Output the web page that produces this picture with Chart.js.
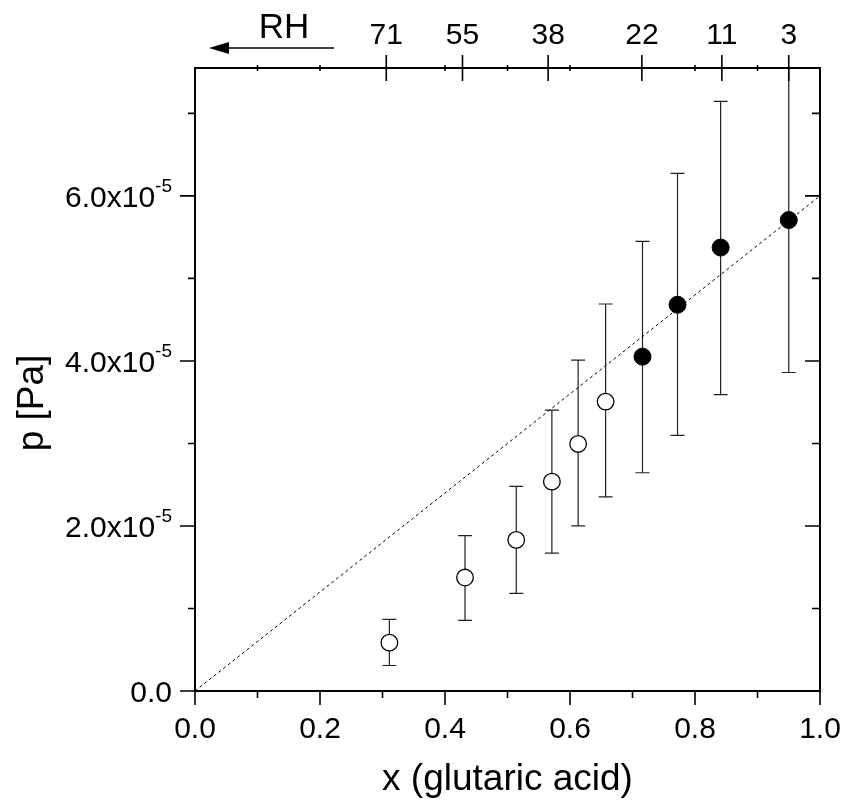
<!DOCTYPE html>
<html>
<head>
<meta charset="utf-8">
<script src="https://cdn.jsdelivr.net/npm/chart.js@4.4.0/dist/chart.umd.min.js"></script>
<style>
body { margin: 0; background: #fff; }
</style>
</head>
<body>
<canvas id="myChart" width="841" height="804"></canvas>
<script>
// p values are in units of 1e-5 Pa
var xOpen = [0.311, 0.432, 0.514, 0.571, 0.613, 0.657];
var pOpen = [0.586, 1.375, 1.831, 2.537, 2.994, 3.507];
var loOpen = [0.309, 0.857, 1.183, 1.672, 2.000, 2.353];
var hiOpen = [0.869, 1.883, 2.481, 3.403, 4.010, 4.690];

var xFilled = [0.716, 0.772, 0.841, 0.950];
var pFilled = [4.052, 4.681, 5.374, 5.707];
var loFilled = [2.645, 3.098, 3.591, 3.860];
var hiFilled = [5.450, 6.273, 7.146, 7.800];

var fitX = [0.0, 1.0];
var fitP = [0.0, 6.0];

var rhLabels = ['71', '55', '38', '22', '11', '3'];
var rhX = [0.306, 0.428, 0.565, 0.715, 0.843, 0.950];

var xTicks = [0.0, 0.2, 0.4, 0.6, 0.8, 1.0];
var yTicks = [0, 2, 4, 6];

var fam = '"Liberation Sans", Arial, sans-serif';

function pts(xs, ys) {
    return xs.map(function (x, i) { return { x: x, y: ys[i] * 1e-5 }; });
}

var framePlugin = {
    id: 'frame',
    beforeDatasetsDraw: function (chart) {
        var c = chart.ctx, a = chart.chartArea;
        var sx = chart.scales.x, sy = chart.scales.y;
        c.save();
        c.beginPath();
        c.rect(a.left, a.top, a.right - a.left, a.bottom - a.top);
        c.clip();
        c.strokeStyle = '#222';
        c.lineWidth = 1.2;
        chart.data.datasets.forEach(function (ds) {
            if (!ds.errLo) return;
            ds.data.forEach(function (p, i) {
                var x = sx.getPixelForValue(p.x);
                var y1 = sy.getPixelForValue(ds.errLo[i] * 1e-5);
                var y2 = sy.getPixelForValue(ds.errHi[i] * 1e-5);
                c.beginPath();
                c.moveTo(x, y1); c.lineTo(x, y2);
                c.moveTo(x - 7, y1); c.lineTo(x + 7, y1);
                c.moveTo(x - 7, y2); c.lineTo(x + 7, y2);
                c.stroke();
            });
        });
        c.restore();
    },
    afterDraw: function (chart) {
        var c = chart.ctx, a = chart.chartArea;
        var sx = chart.scales.x, sy = chart.scales.y;
        c.save();
        c.strokeStyle = '#000';
        c.fillStyle = '#000';
        c.lineWidth = 2;
        c.strokeRect(a.left, a.top, a.right - a.left, a.bottom - a.top);

        // bottom and top ticks
        c.lineWidth = 1.6;
        for (var i = 0; i <= 10; i++) {
            var v = i / 10;
            var px = sx.getPixelForValue(v);
            var major = i % 2 == 0;
            c.beginPath();
            c.moveTo(px, a.bottom);
            c.lineTo(px, a.bottom + (major ? 14 : 7));
            c.stroke();
            if (i > 0 && i < 10 && i != 3 && i != 7) {
                c.beginPath();
                c.moveTo(px, a.top - 3);
                c.lineTo(px, a.top + 3);
                c.stroke();
            }
        }
        // left and right ticks
        for (var j = 0; j <= 7; j++) {
            var py = sy.getPixelForValue(j * 1e-5);
            var maj = j % 2 == 0;
            c.beginPath();
            c.moveTo(a.left, py);
            c.lineTo(a.left - (maj ? 15 : 7), py);
            c.moveTo(a.right, py);
            c.lineTo(a.right - (maj ? 15 : 8), py);
            c.stroke();
        }

        // y tick labels with superscript
        c.textBaseline = 'alphabetic';
        yTicks.forEach(function (t) {
            var py = sy.getPixelForValue(t * 1e-5);
            if (t == 0) {
                c.font = '30px ' + fam;
                c.textAlign = 'right';
                c.fillText('0.0', 172, py + 11);
                return;
            }
            var main = t.toFixed(1) + 'x10';
            c.font = '19px ' + fam;
            var supW = c.measureText('-5').width;
            c.textAlign = 'left';
            c.fillText('-5', 172 - supW, py - 4);
            c.font = '30px ' + fam;
            c.textAlign = 'right';
            c.fillText(main, 172 - supW, py + 11);
        });

        // top RH axis
        c.font = '30px ' + fam;
        c.textAlign = 'center';
        rhX.forEach(function (v, k) {
            var px = sx.getPixelForValue(v);
            c.beginPath();
            c.moveTo(px, a.top - 13);
            c.lineTo(px, a.top + 13);
            c.stroke();
            c.fillText(rhLabels[k], px, 44);
        });
        c.font = '35px ' + fam;
        c.fillText('RH', 284, 38);
        c.lineWidth = 1.5;
        c.beginPath();
        c.moveTo(334, 48);
        c.lineTo(222, 48);
        c.stroke();
        c.beginPath();
        c.moveTo(209, 48);
        c.lineTo(229, 42);
        c.lineTo(229, 54);
        c.closePath();
        c.fill();

        // y title
        c.translate(33, 403);
        c.rotate(-Math.PI / 2);
        c.font = '37px ' + fam;
        c.textAlign = 'center';
        c.textBaseline = 'middle';
        c.fillText('p [Pa]', 0, 0);
        c.restore();
    }
};

var ctx = document.getElementById('myChart');
var myChart = new Chart(ctx, {
    type: 'scatter',
    data: {
        datasets: [{
            type: 'line',
            data: pts(fitX, fitP),
            borderColor: '#000',
            borderWidth: 1,
            borderDash: [3, 3],
            pointRadius: 0,
            fill: false
        }, {
            data: pts(xOpen, pOpen),
            errLo: loOpen,
            errHi: hiOpen,
            pointRadius: 8.3,
            pointBorderWidth: 1.3,
            pointBackgroundColor: '#fff',
            pointBorderColor: '#000'
        }, {
            data: pts(xOpen, pOpen),
            pointRadius: 0.9,
            pointBorderWidth: 0,
            pointBackgroundColor: '#555'
        }, {
            data: pts(xFilled, pFilled),
            errLo: loFilled,
            errHi: hiFilled,
            pointRadius: 8.5,
            pointBorderWidth: 1,
            pointBackgroundColor: '#000',
            pointBorderColor: '#000'
        }]
    },
    options: {
        responsive: false,
        animation: false,
        layout: { padding: { top: 68, right: 21, left: 0, bottom: 0 } },
        plugins: { legend: { display: false }, tooltip: { enabled: false } },
        scales: {
            x: {
                type: 'linear',
                min: 0,
                max: 1,
                afterBuildTicks: function (s) { s.ticks = xTicks.map(function (v) { return { value: v }; }); },
                grid: { display: false, tickLength: 14 },
                border: { display: false },
                ticks: {
                    color: '#000',
                    padding: 7,
                    maxRotation: 0,
                    font: { family: fam, size: 30 },
                    callback: function (v) { return v.toFixed(1); }
                },
                title: {
                    display: true,
                    text: 'x (glutaric acid)',
                    color: '#000',
                    font: { family: fam, size: 37 },
                    padding: { top: 0, bottom: 2 }
                },
                afterFit: function (s) {
                    s.height = 113;
                    s.paddingLeft = 0;
                    s.paddingRight = 0;
                }
            },
            y: {
                type: 'linear',
                min: 0,
                max: 7.55e-5,
                afterBuildTicks: function (s) { s.ticks = yTicks.map(function (v) { return { value: v * 1e-5 }; }); },
                grid: { display: false },
                border: { display: false },
                ticks: { display: false },
                afterFit: function (s) {
                    s.width = 195;
                    s.paddingTop = 0;
                    s.paddingBottom = 0;
                }
            }
        }
    },
    plugins: [framePlugin]
});
</script>
</body>
</html>
